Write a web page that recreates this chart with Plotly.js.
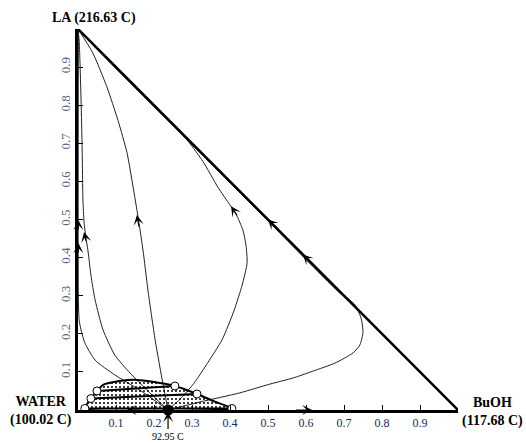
<!DOCTYPE html>
<html><head><meta charset="utf-8">
<script src="https://cdn.plot.ly/plotly-3.0.1.min.js"></script>
<style>body{margin:0;background:#fff}#plot{width:526px;height:443px}</style>
</head><body><div id="plot"></div>
<script>
// Vertex labels (pure components and azeotrope)
const vertexLabels = ["LA (216.63 C)", "WATER<br>(100.02 C)", "BuOH<br>(117.68 C)"];
const azeoLabel = "92.95 C";
const azeoX = [0.237], azeoY = [0];

const tickVals = [0.1,0.2,0.3,0.4,0.5,0.6,0.7,0.8,0.9];
const tickText = ["0.1","0.2","0.3","0.4","0.5","0.6","0.7","0.8","0.9"];

// Triangle hypotenuse (BuOH -> LA)
const hypX = [1, 0], hypY = [0, 1];

// Residue curves (x = BuOH fraction, y = LA fraction)
const curveAx = [0.237,0.224,0.203,0.184,0.171,0.158,0.145,0.129,0.105,0.076,0.039,0];
const curveAy = [0,0.066,0.184,0.315,0.42,0.507,0.585,0.675,0.761,0.848,0.937,1];

const curveBx = [0.237,0.268,0.305,0.342,0.379,0.411,0.432,0.445,0.442,0.434,0.416,0.4,0.368,0.329,0.29,0.245,0.19,0.111,0.045,0];
const curveBy = [0,0.028,0.07,0.125,0.184,0.262,0.328,0.386,0.433,0.472,0.514,0.538,0.585,0.652,0.705,0.752,0.806,0.885,0.952,1];

const curveCx = [0.237,0.321,0.426,0.505,0.566,0.618,0.676,0.724,0.742,0.75,0.745,0.729,0.708,0.69,0.5,0.3,0.1,0];
const curveCy = [0,0.021,0.045,0.068,0.084,0.102,0.123,0.15,0.171,0.205,0.241,0.276,0.294,0.306,0.496,0.696,0.897,1];

const curveDx = [0.237,0.189,0.137,0.097,0.066,0.045,0.034,0.026,0.021,0.016,0.013,0.011,0.008,0.005,0.003,0];
const curveDy = [0,0.045,0.097,0.144,0.21,0.289,0.354,0.42,0.451,0.493,0.551,0.682,0.814,0.919,0.971,1];

const curveEx = [0.237,0.163,0.097,0.045,0.018,0.008,0.003,0.001,0.001];
const curveEy = [0,0.052,0.092,0.131,0.176,0.21,0.236,0.29,1];

// Binodal (LLE envelope)
const binodalX = [0.018,0.034,0.05,0.066,0.11,0.155,0.197,0.255,0.313,0.36,0.405];
const binodalY = [0.004,0.03,0.05,0.066,0.076,0.079,0.074,0.063,0.042,0.022,0.004];

// Tie lines
const tieLeftX = [0.05,0.034,0.018];
const tieLeftY = [0.05,0.03,0.004];
const tieRightX = [0.255,0.313,0.405];
const tieRightY = [0.063,0.042,0.004];

// Direction arrows: head and tail points along curves
const arrowHeadX = [0.155,0.403,0.5,0.592,0.128,0.616,0.016,0.001,0.001];
const arrowHeadY = [0.512,0.535,0.5,0.408,0,0,0.467,0.499,0.438];
const arrowTailX = [0.161,0.421,0.53,0.622,0.17,0.57,0.022,0.001,0.001];
const arrowTailY = [0.478,0.507,0.47,0.378,0,0,0.44,0.47,0.41];

const traces = [];
const thin = {color:'#222', width:1};
[[curveAx,curveAy],[curveBx,curveBy],[curveCx,curveCy],[curveDx,curveDy],[curveEx,curveEy]].forEach(c=>{
  traces.push({x:c[0], y:c[1], mode:'lines', line:Object.assign({shape:'spline', smoothing:0.6}, thin), hoverinfo:'skip', cliponaxis:false});
});
const bx = binodalX.concat([binodalX[0]]);
const by = binodalY.concat([binodalY[0]]);
traces.push({x:bx, y:by, mode:'lines', fill:'toself', fillcolor:'rgba(255,255,255,0)',
  fillpattern:{shape:'.', fgcolor:'#000', bgcolor:'rgba(255,255,255,0)', size:4, solidity:0.2},
  line:{color:'#000', width:2, shape:'spline', smoothing:0.5}, hoverinfo:'skip', cliponaxis:false});
for (let i=0;i<tieLeftX.length;i++){
  traces.push({x:[tieLeftX[i],tieRightX[i]], y:[tieLeftY[i],tieRightY[i]], mode:'lines', line:{color:'#000', width:2}, hoverinfo:'skip', cliponaxis:false});
}
traces.push({x:hypX, y:hypY, mode:'lines', line:{color:'#000', width:2.5}, hoverinfo:'skip', cliponaxis:false});
traces.push({x:tieLeftX.concat(tieRightX), y:tieLeftY.concat(tieRightY), mode:'markers',
  marker:{symbol:'circle', size:8, color:'#fff', line:{color:'#000', width:1}}, hoverinfo:'skip', cliponaxis:false});
traces.push({x:azeoX, y:azeoY, mode:'markers', marker:{symbol:'circle', size:11, color:'#000'}, hoverinfo:'skip', cliponaxis:false});

const px = v => (v-78)/380, py = v => (410-v)/381;
const labelFont = {family:'Liberation Serif, Times New Roman, serif', size:14, color:'#000'};
const annotations = [
  {xref:'paper', yref:'paper', x:px(94), y:py(18), xanchor:'center', yanchor:'middle', text:'<b>'+vertexLabels[0]+'</b>', showarrow:false, font:labelFont},
  {xref:'paper', yref:'paper', x:px(41), y:py(411), xanchor:'center', yanchor:'middle', text:'<b>'+vertexLabels[1]+'</b>', showarrow:false, font:labelFont},
  {xref:'paper', yref:'paper', x:px(492), y:py(412), xanchor:'center', yanchor:'middle', text:'<b>'+vertexLabels[2]+'</b>', showarrow:false, font:labelFont},
  {x:azeoX[0], y:azeoY[0], xref:'x', yref:'y', text:azeoLabel, showarrow:true, ax:0, ay:26,
   arrowhead:3, arrowsize:1.4, arrowwidth:1.2, arrowcolor:'#000', standoff:2,
   font:{family:'Liberation Serif, serif', size:10, color:'#000'}}
];
for (let i=0;i<arrowHeadX.length;i++){
  annotations.push({x:arrowHeadX[i], y:arrowHeadY[i], ax:arrowTailX[i], ay:arrowTailY[i],
    xref:'x', yref:'y', axref:'x', ayref:'y', text:'', showarrow:true,
    arrowhead:3, arrowsize:1.4, arrowwidth:1.2, arrowcolor:'#000'});
}

const axisCommon = {range:[0,1], showline:true, linecolor:'#000', ticks:'inside', ticklen:5, tickwidth:1, tickcolor:'#000',
  tickvals:tickVals, ticktext:tickText, showgrid:false, zeroline:false, fixedrange:true};
const layout = {
  width:526, height:443, margin:{l:78, r:68, t:29, b:33},
  paper_bgcolor:'#fff', plot_bgcolor:'#fff', showlegend:false,
  xaxis:Object.assign({}, axisCommon, {linewidth:2.5, ticklabelstandoff:0, tickfont:{family:'Liberation Serif, serif', size:12, color:'#1c2a5c'}}),
  yaxis:Object.assign({}, axisCommon, {linewidth:3, tickangle:-90, tickfont:{family:'Liberation Serif, serif', size:13, color:'#5b6480'}}),
  annotations:annotations
};
Plotly.newPlot('plot', traces, layout, {staticPlot:true, displayModeBar:false});
</script></body></html>
